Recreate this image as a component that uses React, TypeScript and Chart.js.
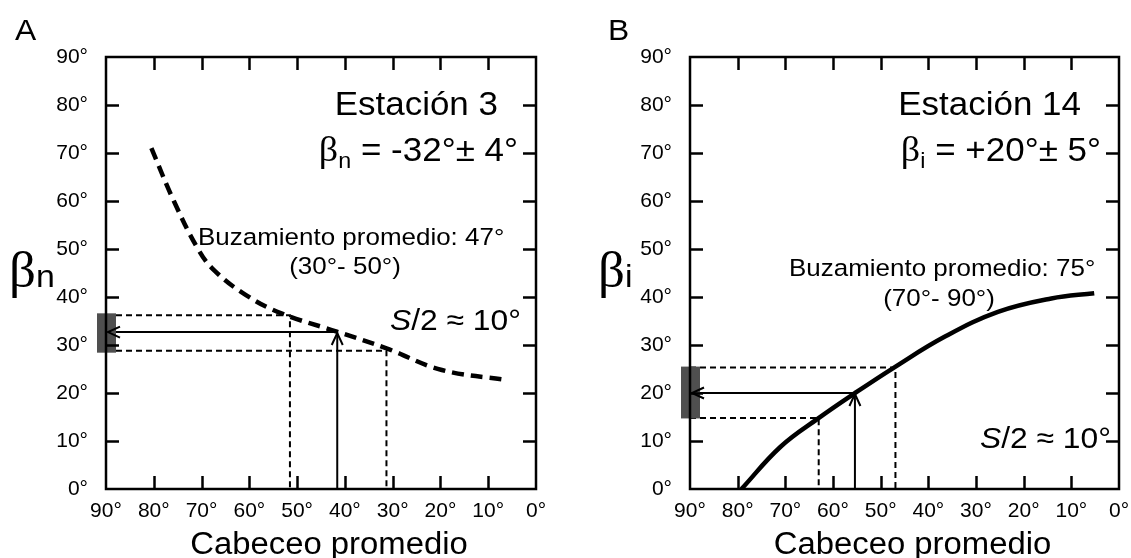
import React, { useEffect, useRef } from 'react';
import { Chart, registerables } from 'chart.js';

Chart.register(...registerables);

// ---------- shared axes ----------
const xTickValues = [0, 10, 20, 30, 40, 50, 60, 70, 80, 90];
const yTickValues = [0, 10, 20, 30, 40, 50, 60, 70, 80, 90];
const xAxisTitle = 'Cabeceo promedio';

// ---------- Panel A : Estación 3 ----------
const curveA_cabeceo = [80.5, 75.8, 70.8, 67.4, 60.7, 53.3, 41.7, 31.3, 19.7, 6.0];
const curveA_beta = [71.0, 60.0, 50.1, 45.6, 40.4, 36.6, 32.8, 29.3, 24.8, 22.7];
const upperA_cabeceo = [90, 51.5, 51.5];
const upperA_beta = [36.2, 36.2, 0];
const lowerA_cabeceo = [90, 31.3, 31.3];
const lowerA_beta = [28.8, 28.8, 0];
const meanA_cabeceo = 41.6;
const meanA_beta = 32.7;
const bandA_beta = [28.4, 36.6];

// ---------- Panel B : Estación 14 ----------
const curveB_cabeceo = [79.2, 71.0, 63.1, 55.5, 47.2, 36.6, 25.4, 14.2, 5.2];
const curveB_beta = [0.0, 8.8, 14.7, 19.9, 25.3, 31.7, 36.9, 39.7, 40.8];
const upperB_cabeceo = [90, 46.9, 46.9];
const upperB_beta = [25.3, 25.3, 0];
const lowerB_cabeceo = [90, 63.0, 63.0];
const lowerB_beta = [14.8, 14.8, 0];
const meanB_cabeceo = 55.4;
const meanB_beta = 20.0;
const bandB_beta = [14.7, 25.5];

const W = 1131;
const H = 558;
const SANS = '"Liberation Sans", Arial, Helvetica, sans-serif';
const SERIF = '"Liberation Serif", "Times New Roman", serif';
const INK = '#000';
const SX = 1.06;

type Seg = { t: string; font: string; dy?: number };

function segWidth(ctx: CanvasRenderingContext2D, segs: Seg[]) {
  let w = 0;
  for (const s of segs) {
    ctx.font = s.font;
    w += ctx.measureText(s.t).width * SX;
  }
  return w;
}

function drawRich(ctx: CanvasRenderingContext2D, segs: Seg[], x: number, y: number, align: 'left' | 'right' | 'center' = 'left') {
  ctx.save();
  ctx.fillStyle = INK;
  ctx.textBaseline = 'alphabetic';
  ctx.textAlign = 'left';
  const w = segWidth(ctx, segs);
  let cx = align === 'left' ? x : align === 'right' ? x - w : x - w / 2;
  for (const s of segs) {
    ctx.font = s.font;
    const sw = ctx.measureText(s.t).width * SX;
    ctx.save();
    ctx.translate(cx, y + (s.dy || 0));
    ctx.scale(SX, 1);
    ctx.fillText(s.t, 0, 0);
    ctx.restore();
    cx += sw;
  }
  ctx.restore();
}

function chevron(ctx: CanvasRenderingContext2D, tx: number, ty: number, dx: number, dy: number) {
  const len = 12;
  const half = 5.5;
  const bx = tx - dx * len;
  const by = ty - dy * len;
  const px = -dy;
  const py = dx;
  ctx.beginPath();
  ctx.moveTo(bx + px * half, by + py * half);
  ctx.lineTo(tx, ty);
  ctx.lineTo(bx - px * half, by - py * half);
  ctx.stroke();
}

type Panel = {
  letter: string;
  sub: string;
  left: number;
  right: number;
  dashedCurve: boolean;
  curveX: number[];
  curveY: number[];
  upX: number[];
  upY: number[];
  loX: number[];
  loY: number[];
  meanX: number;
  meanY: number;
  band: number[];
  station: string;
  result: string;
  buz: string;
  buzRange: string;
  letterX: number;
  betaX: number;
  buzX: number;
  buzY: number;
  rangeCX: number;
  rangeY: number;
  sX: number;
  sY: number;
};

const zip = (xs: number[], ys: number[]) => xs.map((x, i) => ({ x, y: ys[i] }));

function overlay(p: Panel) {
  return {
    id: 'overlay' + p.letter,
    afterDraw(chart: any) {
      const ctx: CanvasRenderingContext2D = chart.ctx;
      const a = chart.chartArea;
      const xs = chart.scales.x;
      const ys = chart.scales.y;
      ctx.save();
      // grey band on the y-axis
      const yTop = ys.getPixelForValue(p.band[1]);
      const yBot = ys.getPixelForValue(p.band[0]);
      ctx.fillStyle = '#4f4f4f';
      ctx.fillRect(a.left - 9, yTop, 19, yBot - yTop);

      // frame
      ctx.strokeStyle = '#000';
      ctx.lineWidth = 2.5;
      ctx.strokeRect(a.left, a.top, a.right - a.left, a.bottom - a.top);

      // inward ticks
      const TL = 13;
      ctx.lineWidth = 2.5;
      ctx.beginPath();
      for (const t of xs.ticks) {
        if (t.value === 0 || t.value === 90) continue;
        const px = Math.round(xs.getPixelForValue(t.value)) + 0.5;
        ctx.moveTo(px, a.bottom);
        ctx.lineTo(px, a.bottom - TL);
        ctx.moveTo(px, a.top);
        ctx.lineTo(px, a.top + TL);
      }
      for (const t of ys.ticks) {
        if (t.value === 0 || t.value === 90) continue;
        const py = Math.round(ys.getPixelForValue(t.value)) + 0.5;
        ctx.moveTo(a.left, py);
        ctx.lineTo(a.left + TL, py);
        ctx.moveTo(a.right, py);
        ctx.lineTo(a.right - TL, py);
      }
      ctx.stroke();

      // arrow heads
      ctx.lineWidth = 2;
      chevron(ctx, xs.getPixelForValue(p.meanX), ys.getPixelForValue(p.meanY) + 1, 0, -1);
      chevron(ctx, a.left + 2, ys.getPixelForValue(p.meanY), -1, 0);

      // texts
      drawRich(ctx, [{ t: p.letter, font: `30px ${SANS}` }], p.letterX, 40);
      drawRich(ctx, [
        { t: 'β', font: `50px ${SERIF}` },
        { t: p.sub, font: `32px ${SANS}` },
      ], p.betaX, 287);
      drawRich(ctx, [{ t: p.station, font: `33px ${SANS}` }], a.right - 38, 115, 'right');
      drawRich(ctx, [
        { t: 'β', font: `36px ${SERIF}` },
        { t: p.sub, font: `22px ${SANS}`, dy: 7 },
        { t: p.result, font: `33px ${SANS}` },
      ], a.right - 18, 161, 'right');
      drawRich(ctx, [{ t: p.buz, font: `24.5px ${SANS}` }], p.buzX, p.buzY);
      drawRich(ctx, [{ t: p.buzRange, font: `24.5px ${SANS}` }], p.rangeCX, p.rangeY, 'center');
      drawRich(ctx, [
        { t: 'S', font: `italic 30px ${SANS}` },
        { t: '/2 ≈ 10°', font: `30px ${SANS}` },
      ], p.sX, p.sY);
      // x-axis title
      drawRich(ctx, [{ t: xAxisTitle, font: `31px ${SANS}` }], (a.left + a.right) / 2 + 8, 554, 'center');
      ctx.restore();
    },
  };
}

function makeConfig(p: Panel): any {
  const black = '#000';
  return {
    type: 'scatter',
    data: {
      datasets: [
        {
          data: zip(p.curveX, p.curveY),
          showLine: true,
          borderColor: black,
          borderWidth: 4.5,
          borderDash: p.dashedCurve ? [12, 7] : [],
          pointRadius: 0,
          tension: 0.4,
        },
        { data: zip(p.upX, p.upY), showLine: true, borderColor: black, borderWidth: 2, borderDash: [6, 4], pointRadius: 0 },
        { data: zip(p.loX, p.loY), showLine: true, borderColor: black, borderWidth: 2, borderDash: [6, 4], pointRadius: 0 },
        { data: [{ x: p.meanX, y: 0 }, { x: p.meanX, y: p.meanY }], showLine: true, borderColor: black, borderWidth: 2, pointRadius: 0 },
        { data: [{ x: p.meanX, y: p.meanY }, { x: 90, y: p.meanY }], showLine: true, borderColor: black, borderWidth: 2, pointRadius: 0 },
      ],
    },
    options: {
      responsive: false,
      animation: false,
      devicePixelRatio: 1,
      events: [],
      layout: { padding: { left: p.left - 106, top: 57, right: W - p.right, bottom: 0 } },
      plugins: { legend: { display: false }, tooltip: { enabled: false } },
      scales: {
        x: {
          type: 'linear',
          reverse: true,
          min: 0,
          max: 90,
          afterFit: (s: any) => { s.height = H - 489; },
          afterBuildTicks: (s: any) => { s.ticks = xTickValues.map((v) => ({ value: v })); },
          grid: { display: false },
          border: { display: false },
          ticks: {
            autoSkip: false,
            maxRotation: 0,
            padding: 2,
            color: INK,
            font: { family: SANS, size: 21 },
            callback: (v: number) => `${v}°`,
          },
          title: { display: false },
        },
        y: {
          type: 'linear',
          min: 0,
          max: 90,
          afterFit: (s: any) => { s.width = 106; },
          afterBuildTicks: (s: any) => { s.ticks = yTickValues.map((v) => ({ value: v })); },
          grid: { display: false },
          border: { display: false },
          ticks: {
            autoSkip: false,
            padding: 10,
            color: INK,
            font: { family: SANS, size: 21 },
            callback: (v: number) => `${v}°`,
          },
        },
      },
    },
    plugins: [overlay(p)],
  };
}

const panelA: Panel = {
  letter: 'A', sub: 'n', left: 106, right: 536, dashedCurve: true,
  curveX: curveA_cabeceo, curveY: curveA_beta,
  upX: upperA_cabeceo, upY: upperA_beta, loX: lowerA_cabeceo, loY: lowerA_beta,
  meanX: meanA_cabeceo, meanY: meanA_beta, band: bandA_beta,
  station: 'Estación 3', result: ' = -32°± 4°',
  buz: 'Buzamiento promedio: 47°', buzRange: '(30°- 50°)',
  letterX: 15, betaX: 9, buzX: 198, buzY: 245, rangeCX: 345, rangeY: 274, sX: 390, sY: 330,
};

const panelB: Panel = {
  letter: 'B', sub: 'i', left: 690, right: 1119, dashedCurve: false,
  curveX: curveB_cabeceo, curveY: curveB_beta,
  upX: upperB_cabeceo, upY: upperB_beta, loX: lowerB_cabeceo, loY: lowerB_beta,
  meanX: meanB_cabeceo, meanY: meanB_beta, band: bandB_beta,
  station: 'Estación 14', result: ' = +20°± 5°',
  buz: 'Buzamiento promedio: 75°', buzRange: '(70°- 90°)',
  letterX: 608, betaX: 598, buzX: 789, buzY: 276, rangeCX: 939, rangeY: 306, sX: 980, sY: 448,
};

function PanelCanvas({ panel }: { panel: Panel }) {
  const ref = useRef<HTMLCanvasElement | null>(null);
  useEffect(() => {
    if (!ref.current) return;
    const chart = new Chart(ref.current, makeConfig(panel));
    return () => chart.destroy();
  }, [panel]);
  return (
    <canvas
      ref={ref}
      width={W}
      height={H}
      style={{ position: 'absolute', left: 0, top: 0, width: W, height: H }}
    />
  );
}

export default function App() {
  return (
    <div style={{ position: 'absolute', left: 0, top: 0, width: W, height: H, background: '#fff' }}>
      <PanelCanvas panel={panelA} />
      <PanelCanvas panel={panelB} />
    </div>
  );
}
